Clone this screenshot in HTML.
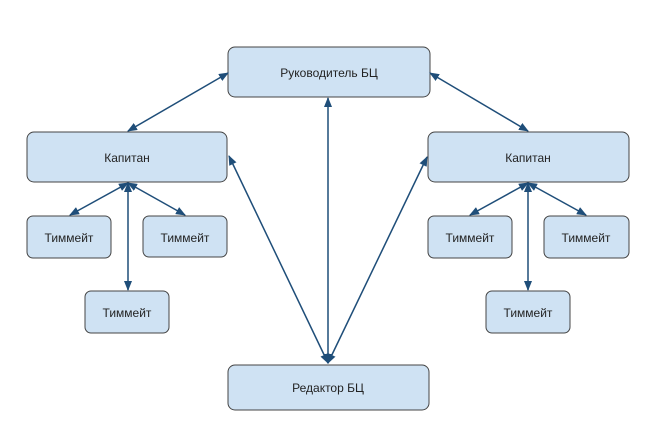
<!DOCTYPE html><html><head><meta charset="utf-8"><style>body{margin:0;background:#fff}</style></head><body>
<svg width="655" height="421" xmlns="http://www.w3.org/2000/svg" font-family="Liberation Sans, sans-serif" font-size="12">
<defs><marker id="a" markerWidth="10" markerHeight="8" refX="9" refY="4" orient="auto-start-reverse" markerUnits="userSpaceOnUse"><path d="M0,0 L10,4 L0,8 z" fill="#1f4e79"/></marker></defs>
<g fill="#cfe2f3" stroke="#444" stroke-width="1">
<rect x="228" y="47" width="202" height="50" rx="7"/>
<rect x="27" y="132" width="200" height="50" rx="7"/>
<rect x="428" y="132" width="201" height="50" rx="7"/>
<rect x="27" y="216" width="84" height="42" rx="6"/>
<rect x="143" y="216" width="84" height="41" rx="6"/>
<rect x="85" y="291" width="84" height="42" rx="6"/>
<rect x="428" y="216" width="84" height="42" rx="6"/>
<rect x="544" y="216" width="85" height="42" rx="6"/>
<rect x="486" y="291" width="84" height="42" rx="6"/>
<rect x="228" y="365" width="201" height="45" rx="7"/>
</g>
<g stroke="#1f4e79" stroke-width="1.5" marker-start="url(#a)" marker-end="url(#a)">
<line x1="228" y1="73" x2="128" y2="131"/>
<line x1="430" y1="73" x2="528" y2="131"/>
<line x1="128" y1="183" x2="70" y2="215"/>
<line x1="128" y1="183" x2="185" y2="215"/>
<line x1="128" y1="183" x2="128" y2="290"/>
<line x1="528" y1="183" x2="470" y2="215"/>
<line x1="528" y1="183" x2="586" y2="215"/>
<line x1="528" y1="183" x2="528" y2="290"/>
<line x1="328" y1="363" x2="229" y2="156"/>
<line x1="328" y1="363" x2="328" y2="98"/>
<line x1="328" y1="363" x2="427" y2="157"/>
</g>
<g fill="#222" text-anchor="middle">
<text x="329" y="77">Руководитель БЦ</text>
<text x="127" y="162">Капитан</text>
<text x="528" y="162">Капитан</text>
<text x="69" y="242">Тиммейт</text>
<text x="185" y="242">Тиммейт</text>
<text x="127" y="317">Тиммейт</text>
<text x="470" y="242">Тиммейт</text>
<text x="586" y="242">Тиммейт</text>
<text x="528" y="317">Тиммейт</text>
<text x="328" y="392">Редактор БЦ</text>
</g>
</svg>
</body></html>
